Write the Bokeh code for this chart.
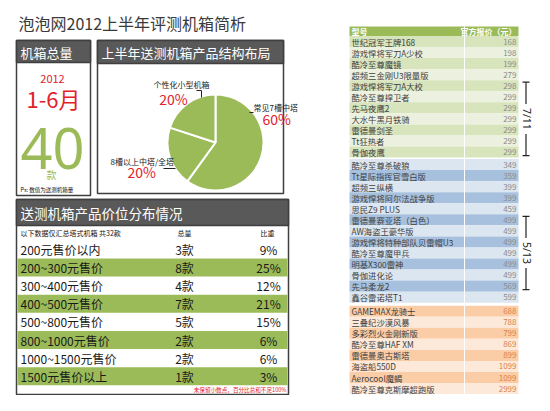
import numpy as np
from bokeh.plotting import figure
from bokeh.models import Range1d, ColumnDataSource
from bokeh.core.properties import value
from bokeh.embed import file_html
from bokeh.resources import INLINE

# ---------------- data ----------------
title_text = "泡泡网2012上半年评测机箱简析"
total_header = "机箱总量"
year_text = "2012"
period_text = "1-6月"
total_count = 40
unit_text = "款"
ps_text = "Ps: 数值为送测机箱量"

pie_header = "上半年送测机箱产品结构布局"
pie_labels = ["常见7槽中塔", "8槽以上中塔/全塔", "个性化小型机箱"]
pie_values = [60, 20, 20]

price_header = "送测机箱产品价位分布情况"
price_col_heads = ["总量", "比重"]
price_ranges = ["200元售价以内", "200~300元售价", "300~400元售价", "400~500元售价",
                "500~800元售价", "800~1000元售价", "1000~1500元售价", "1500元售价以上"]
price_counts = [3, 8, 4, 7, 5, 2, 2, 1]
price_shares = [9, 25, 12, 21, 15, 6, 6, 3]
price_footnote = "未保留小数点，百分比总和不足100%"

model_heads = ["型号", "官方报价（元）"]
models = ["世纪冠军王牌168", "游戏悍将军刀A少校", "酷冷至尊魔镜", "超频三金刚U3限量版",
          "游戏悍将军刀A大校", "酷冷至尊捍卫者", "先马夜鹰2", "大水牛黑月铁骑", "雷德曼剑圣",
          "Tt狂热者", "骨伽夜鹰", "酷冷至尊杀破狼", "Tt星际指挥官雪白版", "超频三纵横",
          "游戏悍将阿尔法战争版", "思民Z9 PLUS", "雷德曼赛亚塔（白色）", "AW海盗王豪华版",
          "游戏悍将特种部队贝雷帽U3", "酷冷至尊魔甲兵", "明基X300雷神", "骨伽进化论",
          "先马柔龙2", "鑫谷雷诺塔T1", "GAMEMAX龙骑士", "三叠纪沙漠风暴", "多彩烈火金刚新版",
          "酷冷至尊HAF XM", "雷德曼奥古斯塔", "海盗船550D", "Aerocool魔蝎", "酷冷至尊克斯摩超跑版"]
model_prices = [168, 198, 199, 279, 298, 299, 299, 299, 299, 299, 299, 349, 359, 399, 399,
                459, 499, 499, 499, 499, 499, 499, 569, 599, 688, 788, 799, 869, 899, 1099,
                1099, 2999]
bracket_labels = ["7/11", "5/13"]
bracket_rows = [(4, 10), (16, 22)]

# ---------------- style ----------------
CJK = value("Noto Sans CJK SC")
GREY_HDR = "#595959"
BORDER = "#3f3f3f"
GREEN = "#9BBB59"
RED = "#E3212B"
W, H = 534, 395

p = figure(width=W, height=H, x_range=Range1d(0, W), y_range=Range1d(H, 0),
           output_backend="svg", toolbar_location=None, x_axis_type=None, y_axis_type=None,
           min_border=0, background_fill_color="white")
p.grid.visible = False
p.outline_line_color = None


def fpx(size):
    return f"{size:.2f}px"


def txt(x, y, s, size, color="#222222", align="left", baseline="middle", style="normal",
        font=CJK, angle=0.0):
    p.text(x=[x], y=[y], text=[s], text_font=font, text_font_size=fpx(size),
           text_color=color, text_align=align, text_baseline=baseline,
           text_font_style=style, angle=angle)


def box(l, r, t, b, hdr_b, hdr_text, hdr_size):
    p.quad(left=[l], right=[r], top=[t], bottom=[b], fill_color="white",
           line_color=BORDER, line_width=1.5)
    p.quad(left=[l], right=[r], top=[t], bottom=[hdr_b], fill_color=GREY_HDR,
           line_color=BORDER, line_width=1.5)
    txt(l + 4, (t + hdr_b) / 2 + 0.5, hdr_text, hdr_size, color="white")


# title
txt(18, 22, title_text, 16, color="#3a3a3a")

# ---------------- box 1: totals ----------------
box(16, 90, 40, 195, 62, total_header, 13)
txt(52, 78, year_text, 11, color=RED, align="center")
txt(53, 97, period_text, 22, color=RED, align="center")
txt(52, 148, str(total_count), 56, color=GREEN, align="center", font=value("Noto Sans"))
txt(51, 174, unit_text, 10, color=GREEN, align="center")
txt(20, 189, ps_text, 5.5, color="#111111")

# ---------------- box 2: pie ----------------
box(97, 283, 40, 193, 63, pie_header, 13)
cx, cy, rad = 215, 142, 48
vals = np.array(pie_values, dtype=float)
frac = vals / vals.sum()
cum_end = np.cumsum(frac)
cum_start = cum_end - frac
pie_src = ColumnDataSource(dict(
    start=np.pi / 2 - 2 * np.pi * cum_end,
    end=np.pi / 2 - 2 * np.pi * cum_start,
))
p.wedge(x=cx, y=cy, radius=rad, start_angle="start", end_angle="end", direction="anticlock",
        source=pie_src, fill_color=GREEN, line_color="white", line_width=2)

pie_label_layout = [
    dict(nx=253, ny=107, na="left", px=262, py=118, pa="left",
         lx=[249, 253], ly=[112, 112]),
    dict(nx=110, ny=161, na="left", px=127, py=171, pa="left",
         lx=[163, 175], ly=[168, 168]),
    dict(nx=181, ny=84, na="center", px=173, py=98, pa="center",
         lx=[196, 201, 201], ly=[90, 90, 97]),
]
for lab, v, L in zip(pie_labels, pie_values, pie_label_layout):
    txt(L["nx"], L["ny"], lab, 8, color="#222222", align=L["na"])
    txt(L["px"], L["py"], f"{v}%", 14, color=RED, align=L["pa"])
    p.line(x=L["lx"], y=L["ly"], line_color="#222222", line_width=1)

# ---------------- box 3: price distribution ----------------
box(16, 288, 199, 394, 225, price_header, 13.5)
txt(20, 232, f"以下数据仅汇总塔式机箱 共{sum(price_counts)}款", 7, color="#111111")
txt(184, 232, price_col_heads[0], 7, color="#111111", align="center")
txt(267, 232, price_col_heads[1], 7, color="#111111", align="center")
row_y = 249 + np.arange(len(price_ranges)) * 18.1
band_idx = np.arange(1, len(price_ranges), 2)
p.quad(left=17, right=287, top=row_y[band_idx] - 9, bottom=row_y[band_idx] + 9,
       fill_color=GREEN, line_color=None)
p.text(x=20, y=row_y, text=price_ranges, text_font=CJK, text_font_size=fpx(12),
       text_color="#1a1a1a", text_baseline="middle")
p.text(x=184, y=row_y, text=[f"{c}款" for c in price_counts], text_font=CJK,
       text_font_size=fpx(12), text_color="#1a1a1a", text_baseline="middle", text_align="center")
p.text(x=268, y=row_y, text=[f"{s}%" for s in price_shares], text_font=CJK,
       text_font_size=fpx(12), text_color="#1a1a1a", text_baseline="middle", text_align="center")
txt(286, 389, price_footnote, 5.6, color=RED, align="right")

# ---------------- right table ----------------
TL, TR, TDIV = 349, 518, 464
row_h = 11.05
prices = np.array(model_prices)
group = np.where(prices < 300, 0, np.where(prices < 600, 1, 2))
gap = np.where(group >= 1, 1.5, 0.0) + np.where(group >= 2, 3.0, 0.0)
tops = 35.5 + np.arange(len(models)) * row_h + gap
centers = tops + row_h / 2
palettes = {0: ("#D7E4BC", "#EBF1DE"), 1: ("#DCE6F1", "#A7C0DE"), 2: ("#FBCDA6", "#FDE9D9")}
colors = []
for g in range(3):
    idx = np.where(group == g)[0]
    for k, _ in enumerate(idx):
        colors.append(palettes[g][k % 2])
p.quad(left=TL, right=TR, top=26, bottom=35.5, fill_color=GREEN, line_color=None)
p.quad(left=TL, right=TR, top=tops, bottom=tops + row_h, fill_color=colors, line_color=None)
p.segment(x0=TDIV, x1=TDIV, y0=26, y1=tops[-1] + row_h, line_color="white", line_width=1)
txt(TL + 2, 30.8, model_heads[0], 8, color="white", style="bold")
txt(TR - 2, 30.8, model_heads[1], 8, color="white", style="bold", align="right")
p.text(x=TL + 2, y=centers, text=models, text_font=CJK, text_font_size=fpx(8.3),
       text_color="#404040", text_baseline="middle")
price_colors = ["#8c8c8c" if g < 2 else "#D9824A" for g in group]
p.text(x=TR - 2, y=centers, text=[str(v) for v in model_prices], text_font=CJK,
       text_font_size=fpx(8), text_color=price_colors, text_baseline="middle",
       text_align="right")

# brackets
BX = 525.5
for lab, (r0, r1) in zip(bracket_labels, bracket_rows):
    y0 = tops[r0] + 2
    y1 = tops[r1] + row_h - 2
    ym = (y0 + y1) / 2
    half_txt = 15
    p.segment(x0=[BX - 3.5, BX - 3.5, BX, BX], x1=[BX + 3.5, BX + 3.5, BX, BX],
              y0=[y0, y1, y0, ym + half_txt], y1=[y0, y1, ym - half_txt, y1],
              line_color="#222222", line_width=1.2)
    txt(BX + 0.5, ym, lab, 10.5, color="#222222", align="center", angle=-np.pi / 2,
        font=value("Noto Sans"))

open("out.html", "w").write(file_html(p, INLINE))
